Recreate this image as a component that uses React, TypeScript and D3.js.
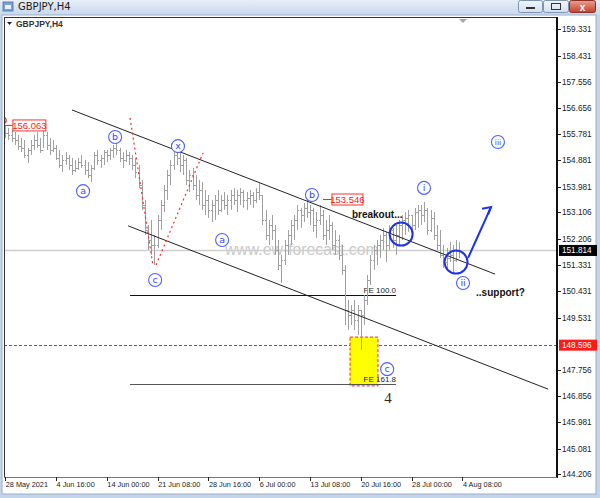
import React from 'react';
import * as d3 from 'd3';

const highs = [
  156.063, 155.98, 155.91, 155.84, 155.74, 155.64, 155.57, 155.30, 155.57, 155.74,
  155.84, 155.64, 155.91, 155.84, 155.64, 155.57, 155.40, 155.23, 155.06, 155.16,
  155.06, 154.96, 154.89, 154.96, 155.06, 154.89, 154.82, 154.72, 155.16, 155.23,
  155.06, 155.23, 155.23, 155.30, 155.40, 155.47, 155.30, 155.16, 155.23, 155.16,
  155.06, 154.96, 154.72, 154.21, 153.53, 152.68, 152.85, 152.34, 153.02, 153.53,
  154.04, 154.55, 154.89, 155.23, 155.30, 155.16, 155.06, 154.96, 154.55, 154.62,
  154.38, 154.21, 154.14, 153.87, 153.70, 153.53, 153.70, 153.87, 153.70, 153.80,
  153.70, 153.87, 153.93, 153.87, 153.93, 153.87, 153.80, 153.87, 153.80, 153.93,
  154.10, 153.70, 153.19, 152.85, 153.02, 152.68, 152.17, 151.66, 152.17, 152.51,
  152.85, 153.02, 153.36, 153.26, 153.43, 153.546, 153.36, 153.26, 153.12, 153.36,
  153.19, 152.85, 153.02, 152.78, 152.51, 152.34, 152.00, 151.32, 150.13, 149.96,
  150.13, 149.96, 149.79, 150.30, 150.98, 151.66, 152.00, 152.17, 152.34, 152.58,
  152.44, 152.68, 152.58, 152.68, 152.85, 153.02, 153.12, 153.19, 153.02, 153.26,
  153.36, 153.36, 153.46, 153.26, 153.19, 153.12, 152.68, 152.51, 152.00, 151.90,
  152.10, 152.00, 152.17, 152.10,
];

const lows = [
  155.64, 155.57, 155.50, 155.40, 155.23, 155.16, 154.96, 154.79, 155.06, 155.23,
  155.30, 155.13, 155.30, 155.23, 155.06, 155.16, 154.89, 154.62, 154.48, 154.72,
  154.55, 154.38, 154.48, 154.55, 154.62, 154.38, 154.27, 154.14, 154.55, 154.72,
  154.62, 154.72, 154.82, 154.89, 154.96, 155.06, 154.82, 154.62, 154.82, 154.72,
  154.55, 154.27, 153.93, 153.19, 152.34, 151.83, 151.66, 151.32, 151.90, 152.51,
  153.12, 153.53, 154.04, 154.55, 154.72, 154.48, 154.38, 154.04, 153.80, 153.87,
  153.53, 153.36, 153.19, 153.02, 152.92, 152.78, 152.85, 153.02, 153.12, 153.19,
  153.02, 153.19, 153.36, 153.12, 153.36, 153.26, 153.19, 153.36, 153.26, 153.43,
  153.53, 152.68, 152.17, 152.00, 152.17, 151.66, 151.15, 150.71, 151.32, 151.66,
  152.00, 152.17, 152.51, 152.58, 152.78, 152.92, 152.68, 152.44, 152.24, 152.68,
  152.17, 152.00, 152.17, 151.83, 151.66, 151.49, 150.98, 149.28, 149.11, 149.28,
  149.11, 148.94, 148.43, 149.28, 149.96, 150.64, 151.15, 151.32, 151.56, 151.83,
  151.42, 151.83, 151.90, 151.66, 152.00, 152.17, 152.34, 152.44, 152.24, 152.51,
  152.58, 152.68, 152.78, 152.34, 152.44, 152.17, 151.83, 151.56, 151.22, 151.15,
  151.42, 151.08, 151.42, 151.56,
];

const closes = [
  155.81, 155.74, 155.64, 155.57, 155.36, 155.30, 155.06, 155.23, 155.40, 155.57,
  155.40, 155.23, 155.74, 155.40, 155.23, 155.30, 154.96, 154.72, 154.89, 154.96,
  154.72, 154.55, 154.62, 154.82, 154.72, 154.55, 154.38, 154.62, 155.06, 154.89,
  154.96, 155.16, 155.06, 155.23, 155.30, 155.23, 154.96, 154.89, 155.06, 154.96,
  154.72, 154.48, 154.04, 153.36, 152.51, 152.17, 152.00, 152.00, 152.85, 153.36,
  153.87, 154.38, 154.72, 155.06, 154.96, 154.72, 154.89, 154.21, 154.38, 154.04,
  153.70, 153.87, 153.36, 153.53, 153.19, 153.36, 153.53, 153.19, 153.53, 153.36,
  153.53, 153.70, 153.53, 153.70, 153.80, 153.53, 153.60, 153.70, 153.53, 153.80,
  153.70, 152.85, 152.34, 152.68, 152.51, 151.83, 151.32, 151.49, 152.00, 152.34,
  152.68, 152.85, 153.19, 153.02, 153.26, 153.12, 153.19, 152.68, 152.85, 153.02,
  152.34, 152.51, 152.68, 152.00, 152.17, 151.66, 151.15, 149.79, 149.62, 149.79,
  149.45, 149.79, 149.62, 150.13, 150.81, 151.49, 151.83, 152.00, 152.17, 152.34,
  152.00, 152.51, 152.17, 152.34, 152.68, 152.85, 152.92, 153.02, 152.68, 153.12,
  153.19, 153.02, 153.19, 152.51, 152.92, 152.34, 152.00, 151.66, 151.42, 151.56,
  151.66, 151.49, 151.83, 151.814,
];

const priceTicks = [
  159.331, 158.431, 157.556, 156.656, 155.781, 154.881, 153.981, 153.106, 152.206,
  151.331, 150.431, 149.531, 147.756, 146.856, 145.981, 145.081, 144.206,
];
const dateLabels = [
  '28 May 2021', '4 Jun 16:00', '14 Jun 00:00', '21 Jun 08:00', '28 Jun 16:00',
  '6 Jul 00:00', '13 Jul 08:00', '20 Jul 16:00', '28 Jul 00:00', '4 Aug 08:00',
];
const dateTickBars = [0, 16, 32, 48, 64, 80, 96, 112, 128, 144];

const bidPrice = 151.814;
const markPrice = 148.596;
const highMark1 = 156.063;
const highMark2 = 153.546;
const fe100 = 150.30;
const fe1618 = 147.275;

// wave labels: [bar, price, text]
const waveLabels: [number, number, string][] = [
  [24.5, 153.83, 'a'], [34.6, 155.67, 'b'], [47.2, 150.81, 'c'], [54.4, 155.36, 'x'],
  [68.3, 152.17, 'a'], [96.6, 153.70, 'b'], [131.9, 153.94, 'i'], [144.2, 150.71, 'ii'],
  [155.2, 155.50, 'iii'], [120.3, 147.78, 'c'],
];
const upperChannel: [number, number][] = [[21.0, 156.59], [154.3, 151.01]];
const lowerChannel: [number, number][] = [[38.7, 152.65], [171.0, 147.10]];
const redDot1: [number, number][] = [[39.3, 156.32], [46.5, 151.32]];
const redDot2: [number, number][] = [[47.5, 151.32], [62.3, 155.13]];
const bigCircles: [number, number][] = [[124.7, 152.37], [142.0, 151.42]];
const arrowPts: [number, number][] = [[145.8, 151.56], [149.5, 152.45], [153.0, 153.29]];
const feRange = [39.3, 123.1];
const boxBars = [108.6, 117.4];
const boxPrices = [148.87, 147.21];

export default function App() {
  const W = 600, H = 498;
  const L = 4, R = 557, T = 17, B = 477;
  const x = d3.scaleLinear().domain([-0.5, 173.8]).range([3.7, R]);
  const y = d3.scaleLinear().domain([144.206, 159.331]).range([474.3, 29.3]);
  const line = d3.line<[number, number]>().x(d => x(d[0])).y(d => y(d[1]));
  const curve = d3.line<[number, number]>().x(d => x(d[0])).y(d => y(d[1])).curve(d3.curveCatmullRom);
  const font = "'Liberation Sans', Arial, sans-serif";
  const blue = '#1f33e6';

  const bars = highs.map((h, i) => {
    const cx = Math.round(x(i)) + 0.5;
    const open = i === 0 ? closes[0] : closes[i - 1];
    return (
      <g key={i} stroke="#a0a0a0" strokeWidth={1}>
        <line x1={cx} x2={cx} y1={y(h)} y2={y(lows[i])} />
        <line x1={cx - 1.5} x2={cx} y1={Math.round(y(open)) + 0.5} y2={Math.round(y(open)) + 0.5} />
        <line x1={cx} x2={cx + 1.5} y1={Math.round(y(closes[i])) + 0.5} y2={Math.round(y(closes[i])) + 0.5} />
      </g>
    );
  });

  const tip = arrowPts[arrowPts.length - 1];
  const tx = x(tip[0]), ty = y(tip[1]);

  return (
    <svg width={W} height={H} style={{ position: 'absolute', left: 0, top: 0 }} fontFamily={font}>
      <defs>
        <linearGradient id="tb" x1="0" y1="0" x2="0" y2="1">
          <stop offset="0" stopColor="#e6eef8" />
          <stop offset="1" stopColor="#c9d8ec" />
        </linearGradient>
        <linearGradient id="cls" x1="0" y1="0" x2="0" y2="1">
          <stop offset="0" stopColor="#e8a090" />
          <stop offset="1" stopColor="#c4402c" />
        </linearGradient>
        <linearGradient id="btn" x1="0" y1="0" x2="0" y2="1">
          <stop offset="0" stopColor="#f2f6fb" />
          <stop offset="1" stopColor="#d2deee" />
        </linearGradient>
        <clipPath id="plot"><rect x={L} y={T} width={R - L} height={B - T} /></clipPath>
      </defs>
      {/* window chrome */}
      <rect x={0} y={0} width={W} height={H} fill="#c4d5ea" />
      <rect x={0} y={0} width={W} height={15} fill="url(#tb)" />
      <rect x={3} y={2} width={10} height={9} fill="#7da2cf" stroke="#4a6fa0" strokeWidth={0.8} />
      <rect x={5} y={5} width={6} height={4} fill="#e8f0fa" />
      <text x={18} y={10} fontSize={10} fontFamily="'DejaVu Sans', sans-serif" fill="#1b1b1b">GBPJPY,H4</text>
      <rect x={518.5} y={0.5} width={24} height={12} rx={2} fill="url(#btn)" stroke="#7f93b0" />
      <rect x={526} y={7} width={9} height={2} fill="#333" />
      <rect x={543.5} y={0.5} width={25} height={12} rx={2} fill="url(#btn)" stroke="#7f93b0" />
      <rect x={551.5} y={3.5} width={9} height={6} fill="none" stroke="#333" strokeWidth={1} />
      <rect x={569.5} y={0.5} width={26} height={12} rx={2} fill="url(#cls)" stroke="#8a2f22" />
      <text x={582.5} y={10.5} fontSize={10} fontWeight="bold" textAnchor="middle" fill="#fff">x</text>
      <rect x={2} y={15} width={594} height={479} fill="#ffffff" stroke="#9aaec8" strokeWidth={1} />

      {/* plot frame */}
      <rect x={L} y={T} width={R - L} height={B - T} fill="#ffffff" />
      <g clipPath="url(#plot)">
        <text x={x(69.2)} y={y(151.66)} fontSize={15.8} fill="#cacaca" fontFamily={font}>www.ew-forecast.com</text>
        <line x1={L} x2={R} y1={Math.round(y(bidPrice)) + 0.5} y2={Math.round(y(bidPrice)) + 0.5} stroke="#cfcfcf" strokeWidth={1.5} />
        <line x1={L} x2={R} y1={Math.round(y(markPrice)) + 0.5} y2={Math.round(y(markPrice)) + 0.5} stroke="#ff2020" strokeWidth={1} strokeDasharray="3,2" />
        {/* yellow box */}
        <rect x={x(boxBars[0])} y={y(boxPrices[0])} width={x(boxBars[1]) - x(boxBars[0])} height={y(boxPrices[1]) - y(boxPrices[0])} fill="#ffff00" stroke="#ff2020" strokeDasharray="3,2" strokeWidth={1} />
        {/* FE lines */}
        <line x1={x(feRange[0])} x2={x(feRange[1])} y1={Math.round(y(fe100)) + 0.5} y2={Math.round(y(fe100)) + 0.5} stroke="#111" strokeWidth={1} />
        <line x1={x(feRange[0])} x2={x(feRange[1])} y1={Math.round(y(fe1618)) + 0.5} y2={Math.round(y(fe1618)) + 0.5} stroke="#555" strokeWidth={1.2} />
        <text x={x(feRange[1])} y={y(fe100) - 2.5} fontSize={8} textAnchor="end" fill="#222">FE 100.0</text>
        <text x={x(feRange[1])} y={y(fe1618) - 2.5} fontSize={8} textAnchor="end" fill="#222">FE 161.8</text>
        {bars}
        {/* channel */}
        <path d={line(upperChannel) || ''} stroke="#222" strokeWidth={1} fill="none" />
        <path d={line(lowerChannel) || ''} stroke="#222" strokeWidth={1} fill="none" />
        <path d={line(redDot1) || ''} stroke="#ff2a2a" strokeWidth={1.2} strokeDasharray="2,3" fill="none" />
        <path d={line(redDot2) || ''} stroke="#ff2a2a" strokeWidth={1.2} strokeDasharray="2,3" fill="none" />
        {/* price markers */}
        <path d={`M${x(-0.5)},${y(highMark1)} H${x(2.4)}`} stroke="#ff2020" strokeWidth={1} />
        <path d={`M${x(-0.5) + 1},${y(highMark1) - 8} q3,3 0,6`} stroke="#ff2020" fill="none" strokeWidth={1.2} />
        <rect x={x(2.4)} y={y(highMark1) - 5.5} width={33} height={11} fill="#fff" stroke="#ff3030" />
        <text x={x(2.4) + 16.5} y={y(highMark1) + 3.5} fontSize={9.5} textAnchor="middle" fill="#ff2020">156.063</text>
        <path d={`M${x(100.1)},${y(highMark2)} H${x(102.9)}`} stroke="#ff2020" strokeWidth={1} />
        <rect x={x(102.9)} y={y(highMark2) - 5.5} width={31} height={11} fill="#fff" stroke="#ff3030" />
        <text x={x(102.9) + 15.5} y={y(highMark2) + 3.5} fontSize={9.5} textAnchor="middle" fill="#ff2020">153.546</text>
        {/* big circles & arrow */}
        {bigCircles.map((c, i) => (
          <circle key={i} cx={x(c[0])} cy={y(c[1])} r={11.5} fill="none" stroke={blue} strokeWidth={2} />
        ))}
        <path d={curve(arrowPts) || ''} stroke={blue} strokeWidth={2} fill="none" />
        <path d={`M${x(150.2)},${y(153.23)} L${tx},${ty} L${x(152.1)},${y(153.03)}`} stroke={blue} strokeWidth={2} fill="none" />
        {/* wave labels */}
        {waveLabels.map(([b, p, t], i) => (
          <g key={i}>
            <circle cx={x(b)} cy={y(p)} r={6.5} fill="#fff" stroke="#4f5fff" strokeWidth={1.1} />
            <text x={x(b)} y={y(p) + 3.3} fontSize={t.length > 2 ? 7.5 : 9.5} textAnchor="middle" fill="#3346ff" fontFamily="'DejaVu Sans', sans-serif">{t}</text>
          </g>
        ))}
        <text x={x(120.6)} y={y(146.80) + 5} fontSize={15} textAnchor="middle" fill="#3b2a1c" fontFamily="'Liberation Serif', 'Times New Roman', serif">4</text>
        <text x={x(109.2)} y={y(152.92)} fontSize={10} fontWeight="bold" fill="#111">breakout...</text>
        <text x={x(148.3)} y={y(150.27)} fontSize={10} fontWeight="bold" fill="#111">..support?</text>
        <path d={`M459,${T + 2} h8 l-4,4 z`} fill="#a8a8a8" />
      </g>
      {/* frame lines */}
      <line x1={L + 0.5} x2={L + 0.5} y1={T} y2={B} stroke="#333" />
      <line x1={L} x2={R} y1={T + 0.5} y2={T + 0.5} stroke="#333" />
      <line x1={R} x2={R} y1={T} y2={B + 1} stroke="#111" strokeWidth={2} />
      <line x1={L} x2={R} y1={B + 0.5} y2={B + 0.5} stroke="#777" strokeWidth={1.2} />
      {/* top label */}
      <path d="M7,22 h5 l-2.5,3 z" fill="#222" />
      <text x={16} y={27} fontSize={8.5} fill="#333" fontWeight="bold">GBPJPY,H4</text>
      {/* price axis */}
      {priceTicks.map((p, i) => (
        <g key={i}>
          <line x1={R + 1} x2={R + 4} y1={Math.round(y(p)) + 0.5} y2={Math.round(y(p)) + 0.5} stroke="#222" />
          <text x={R + 5} y={y(p) + 3} fontSize={8.2} fill="#1a1a1a">{p.toFixed(3)}</text>
        </g>
      ))}
      <rect x={R + 2} y={y(bidPrice) - 5.5} width={38} height={11} fill="#000" />
      <text x={R + 5} y={y(bidPrice) + 3} fontSize={8.2} fill="#fff">{bidPrice.toFixed(3)}</text>
      <rect x={R + 2} y={y(markPrice) - 5.5} width={38} height={11} fill="#ff1a1a" />
      <text x={R + 5} y={y(markPrice) + 3} fontSize={8.2} fill="#fff">{markPrice.toFixed(3)}</text>
      {/* date axis */}
      {dateTickBars.map((b, i) => (
        <g key={i}>
          <line x1={Math.round(x(b)) + 0.5} x2={Math.round(x(b)) + 0.5} y1={B} y2={B + 4} stroke="#222" />
          <text x={x(b) + 0.5} y={B + 10} fontSize={7.3} fill="#1a1a1a">{dateLabels[i]}</text>
        </g>
      ))}
    </svg>
  );
}
